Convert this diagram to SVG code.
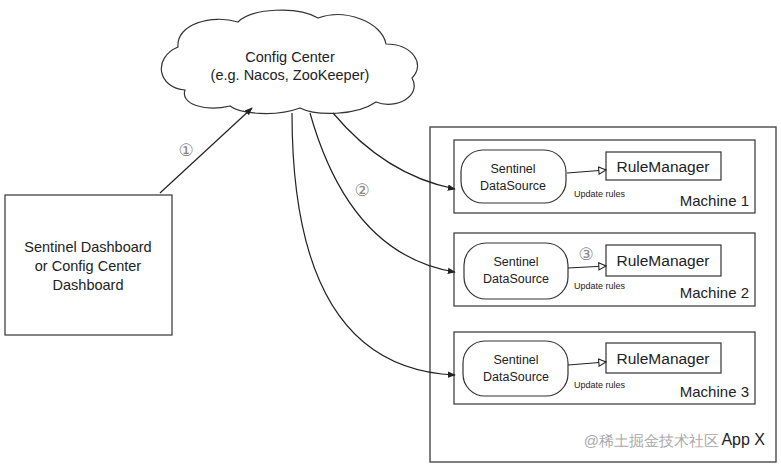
<svg xmlns="http://www.w3.org/2000/svg" width="781" height="466" viewBox="0 0 781 466">
<style>
text{font-family:"Liberation Sans",Arial,sans-serif;fill:#222}
.box{fill:#fff;stroke:#333;stroke-width:1.2}
.line{fill:none;stroke:#222;stroke-width:1.2}
.num{font-family:"DejaVu Sans",sans-serif;fill:#888;font-size:17px}
.small{font-size:9px}
</style>
<defs>
<marker id="fill" viewBox="0 0 10 10" refX="9" refY="5" markerWidth="8" markerHeight="8" orient="auto" markerUnits="userSpaceOnUse">
<path d="M0,1 L10,5 L0,9 Z" fill="#222"/>
</marker>
<marker id="open" viewBox="0 0 10 10" refX="9" refY="5" markerWidth="9" markerHeight="9" orient="auto" markerUnits="userSpaceOnUse">
<path d="M1,1 L9,5 L1,9 Z" fill="#fff" stroke="#222" stroke-width="1.2"/>
</marker>
</defs>
<rect width="781" height="466" fill="#fff"/>
<g id="app">
<rect x="430" y="127" width="346" height="335" fill="#fff" stroke="#555" stroke-width="1.5"/>
<text x="765" y="445" font-size="16" text-anchor="end">App X</text>
<text x="719" y="446" font-size="15" text-anchor="end" style="fill:#aaa" font-family="'Noto Sans CJK SC',sans-serif">@稀土掘金技术社区</text>
</g>
<g id="cloud">
<path class="box" d="M185,90 C158,88 152,58 178,47 C176,24 212,14 238,22 C252,8 298,6 318,18 C345,8 382,22 386,44 C412,44 426,64 412,78 C422,96 396,110 376,102 C356,116 316,116 300,108 C276,117 240,114 230,106 C205,112 180,104 185,90 Z"/>
<text x="290" y="62" font-size="14.5" text-anchor="middle">Config Center</text>
<text x="290" y="80" font-size="14.5" text-anchor="middle">(e.g. Nacos, ZooKeeper)</text>
</g>
<g id="dashboard">
<rect class="box" x="5" y="195" width="167" height="140"/>
<text x="88" y="252" font-size="14.5" text-anchor="middle">Sentinel Dashboard</text>
<text x="88" y="271" font-size="14.5" text-anchor="middle">or Config Center</text>
<text x="88" y="290" font-size="14.5" text-anchor="middle">Dashboard</text>
</g>
<g id="machine1">
<rect class="box" x="454" y="140" width="301" height="73"/>
<rect class="box" x="461" y="150" width="105" height="53" rx="22"/>
<text x="513" y="173" font-size="12.5" text-anchor="middle">Sentinel</text>
<text x="513" y="190" font-size="12.5" text-anchor="middle">DataSource</text>
<rect class="box" x="606" y="152" width="115" height="28"/>
<text x="663" y="172" font-size="15.5" text-anchor="middle">RuleManager</text>
<text x="574" y="197" class="small">Update rules</text>
<text x="749" y="206" font-size="15" text-anchor="end">Machine 1</text>
</g>
<g id="machine2">
<rect class="box" x="454" y="233" width="301" height="73"/>
<rect class="box" x="464" y="243" width="104" height="56" rx="22"/>
<text x="516" y="266" font-size="12.5" text-anchor="middle">Sentinel</text>
<text x="516" y="283" font-size="12.5" text-anchor="middle">DataSource</text>
<rect class="box" x="606" y="245" width="115" height="31"/>
<text x="663" y="266" font-size="15.5" text-anchor="middle">RuleManager</text>
<text x="574" y="289" class="small">Update rules</text>
<text x="749" y="298" font-size="15" text-anchor="end">Machine 2</text>
</g>
<g id="machine3">
<rect class="box" x="454" y="332" width="301" height="72"/>
<rect class="box" x="463" y="341" width="105" height="55" rx="22"/>
<text x="516" y="364" font-size="12.5" text-anchor="middle">Sentinel</text>
<text x="516" y="381" font-size="12.5" text-anchor="middle">DataSource</text>
<rect class="box" x="606" y="343" width="115" height="30"/>
<text x="663" y="364" font-size="15.5" text-anchor="middle">RuleManager</text>
<text x="574" y="388" class="small">Update rules</text>
<text x="749" y="397" font-size="15" text-anchor="end">Machine 3</text>
</g>
<g id="connectors">
<path class="line" d="M160,193 L252,108" marker-end="url(#fill)"/>
<path class="line" d="M333,113 Q385,175 455,189" marker-end="url(#fill)"/>
<path class="line" d="M310,113 Q350,255 455,272" marker-end="url(#fill)"/>
<path class="line" d="M292,113 Q292,368 455,375" marker-end="url(#fill)"/>
<path class="line" d="M567,173 L606,170" marker-end="url(#open)"/>
<path class="line" d="M568,268 L606,266" marker-end="url(#open)"/>
<path class="line" d="M568,365 L606,362" marker-end="url(#open)"/>
<text x="186" y="156" class="num" text-anchor="middle">①</text>
<text x="362" y="196" class="num" text-anchor="middle">②</text>
<text x="586" y="260" class="num" text-anchor="middle">③</text>
</g>
</svg>
